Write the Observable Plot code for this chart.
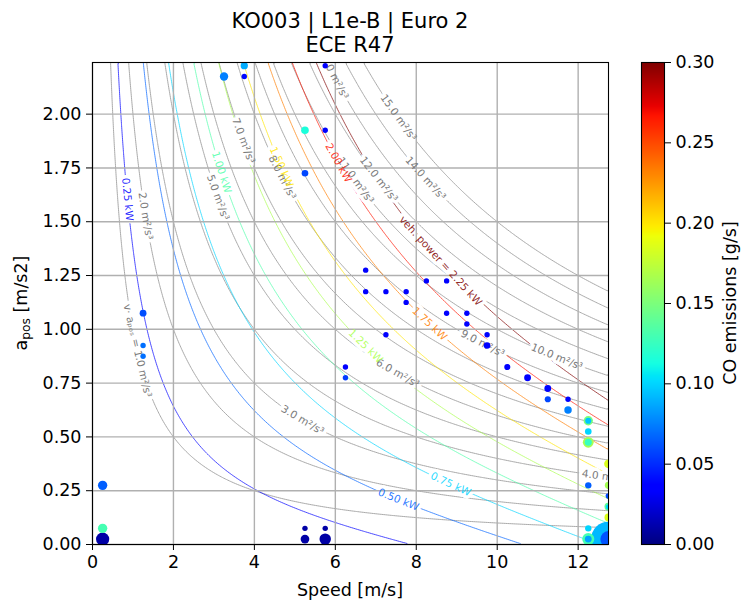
<!DOCTYPE html>
<html><head><meta charset="utf-8">
<script src="https://cdn.jsdelivr.net/npm/d3@7"></script>
<script src="https://cdn.jsdelivr.net/npm/@observablehq/plot@0.6"></script>
<style>
html,body{margin:0;padding:0;background:#fff;}
#fig{position:relative;width:743px;height:604px;font-family:"DejaVu Sans",sans-serif;color:#000;overflow:hidden;background:#fff}
.abs{position:absolute;white-space:nowrap;transform:translate(-50%,-50%);line-height:1}
.rot{transform:translate(-50%,-50%) rotate(-90deg)}
sub{font-size:70%;vertical-align:-0.25em}
</style></head><body><div id="fig"></div>
<script>
// ---------------- data ----------------
const speed = [0.25,0.25,0.25,1.25,1.25,1.25,3.25,3.75,3.75,5.25,5.25,5.75,5.75,5.25,5.25,5.75,5.75,
  6.25,6.25,6.75,6.75,7.25,7.25,7.75,7.75,8.25,8.75,8.75,9.25,9.25,9.75,9.75,10.25,10.75,11.25,11.25,11.75,11.75,
  12.25,12.25,12.25,12.25,12.25,12.25,12.25,12.25,12.25,12.75,12.75,12.75,12.75,12.75,12.75,12.75,12.75];
const accel = [0.025,0.075,0.275,1.075,0.925,0.875,2.175,2.225,2.175,1.925,1.725,2.225,1.925,0.075,0.025,0.075,0.025,
  0.825,0.775,1.275,1.175,1.175,0.975,1.175,1.125,1.225,1.225,1.075,1.075,1.025,0.975,0.925,0.825,0.775,0.725,0.675,0.675,0.625,
  0.575,0.575,0.525,0.475,0.475,0.275,0.075,0.025,0.025,0.375,0.275,0.225,0.175,0.175,0.125,0.025,0.025];
const coEmission = [0.010,0.130,0.065,0.060,0.070,0.070,0.075,0.088,0.040,0.115,0.058,0.035,0.035,0.010,0.010,0.010,0.010,
  0.035,0.055,0.035,0.035,0.035,0.035,0.035,0.035,0.035,0.035,0.035,0.035,0.035,0.035,0.035,0.035,0.035,0.038,0.058,0.038,0.075,
  0.150,0.095,0.100,0.165,0.125,0.065,0.100,0.130,0.085,0.185,0.165,0.060,0.140,0.100,0.185,0.092,0.062];
const dwellTime = [6,3,3,1.6,1,1,2.4,1.8,1,2,1.5,1,1,1,2.6,1,4.5,
  1,1,1,1,1,1,1,1,1,1,1,1,1,1,1.5,1.3,1.6,1.6,1.3,1,1.9,
  3,1.3,1.5,4,1.7,1.4,1.4,5,1.6,2.6,1.8,1.2,2.2,1,2.2,42,9];
const xTicks = [0,2,4,6,8,10,12];
const yTicks = [0,0.25,0.5,0.75,1.0,1.25,1.5,1.75,2.0];
const cbTicks = [0,0.05,0.10,0.15,0.20,0.25,0.30];
const vaLevels = [1,2,3,4,5,6,7,8,9,10,11,12,13,14,15];           // v·a_pos [m²/s³]
const powerLevels = [0.25,0.5,0.75,1.0,1.25,1.5,1.75,2.0,2.25];  // vehicle power [kW]
// vehicle road-load model used for the power contours
const vehMass = 171.7, rr0 = 0.0784, rr2 = 0.001725;
const powerKW = (v, a) => vehMass * v * (a + rr0 + rr2 * v * v) / 1000;

// ---------------- label placement (speed along each contour) ----------------
const vaLabelSpeed = [1.11,1.31,5.19,12.68,3.1,7.54,3.73,4.69,9.64,11.47,6.5,7.07,5.95,8.23,7.56];
const powerLabelSpeed = [0.865,7.56,8.85,3.19,6.75,4.67,8.33,6.08,8.6];

// ---------------- jet colormap ----------------
function jet(t) {
  const tt = Math.max(0, Math.min(1, t));
  const f = stops => {
    for (let i = 1; i < stops.length; i++) {
      if (tt <= stops[i][0]) {
        const [x0, y0] = stops[i-1], [x1, y1] = stops[i];
        return y0 + (y1 - y0) * (tt - x0) / (x1 - x0);
      }
    }
    return stops[stops.length-1][1];
  };
  const r = f([[0,0],[0.35,0],[0.66,1],[0.89,1],[1,0.5]]);
  const g = f([[0,0],[0.125,0],[0.375,1],[0.64,1],[0.91,0],[1,0]]);
  const b = f([[0,0.5],[0.11,1],[0.34,1],[0.65,0],[1,0]]);
  return `rgb(${Math.round(r*255)},${Math.round(g*255)},${Math.round(b*255)})`;
}

// ---------------- layout ----------------
const W = 625, H = 604, mL = 92, mR = W - 608, mT = 62, mB = 60;
const xDomain = [0, 12.75], yDomain = [0, 2.24];
const kx = (W - mL - mR) / (xDomain[1] - xDomain[0]);
const ky = (H - mT - mB) / (yDomain[1] - yDomain[0]);
const deg = s => Math.atan(-s * ky / kx) * 180 / Math.PI;

const points = speed.map((v, i) => ({v, a: accel[i], co: coEmission[i], t: dwellTime[i]}));

const labels = [];
vaLevels.forEach((L, i) => {
  const v = vaLabelSpeed[i], a = L / v, slope = -L / (v * v);
  labels.push({v, a, rot: deg(slope), color: "#7a7a7a", op: 1,
    text: (i === 0 ? "v· aₚₒₛ = " : "") + L.toFixed(1) + " m²/s³"});
});
const powerMarks = [];
powerLevels.forEach((P, i) => {
  const K = P * 1000 / vehMass;
  const col = jet(P / 2.25);
  powerMarks.push(Plot.contour({x1: xDomain[0], x2: xDomain[1], y1: yDomain[0], y2: yDomain[1],
    value: powerKW, thresholds: [P], stroke: col, strokeOpacity: 0.7, strokeWidth: 1, fill: "none"}));
  const v = powerLabelSpeed[i];
  const a = K / v - rr0 - rr2 * v * v;
  const slope = -K / (v * v) - 2 * rr2 * v;
  labels.push({v, a, rot: deg(slope), color: col, op: 0.85,
    text: (i === powerLevels.length - 1 ? "veh. power = " : "") + P.toFixed(2) + " kW"});
});
// inline-label gaps (white knock-out under each label) and the labels themselves
const haloMarks = labels.map(l => Plot.text([l], {x: "v", y: "a", text: "text", rotate: l.rot,
  fill: "white", stroke: "white", strokeWidth: 7, strokeLinejoin: "round", fontSize: 10.5, clip: true}));
const labelMarks = labels.map(l => Plot.text([l], {x: "v", y: "a", text: "text", rotate: l.rot,
  fill: l.color, fillOpacity: l.op, fontSize: 10.5, clip: true}));

const main = Plot.plot({
  width: W, height: H, marginLeft: mL, marginRight: mR, marginTop: mT, marginBottom: mB,
  style: {fontFamily: "DejaVu Sans", color: "black", background: "white", maxWidth: "none"},
  x: {domain: xDomain}, y: {domain: yDomain},
  color: {type: "linear", domain: [0, 0.3], interpolate: jet},
  r: {type: "sqrt", domain: [0, 1], range: [0, 2.7]},
  marks: [
    Plot.contour({x1: xDomain[0], x2: xDomain[1], y1: yDomain[0], y2: yDomain[1],
      value: (v, a) => v * a, thresholds: vaLevels, stroke: "#9a9a9a", strokeOpacity: 0.85, strokeWidth: 1, fill: "none"}),
    ...powerMarks,
    ...haloMarks,
    Plot.gridX(xTicks, {stroke: "#b0b0b0", strokeOpacity: 1, strokeWidth: 1.4}),
    Plot.gridY(yTicks, {stroke: "#b0b0b0", strokeOpacity: 1, strokeWidth: 1.4}),
    ...labelMarks,
    Plot.dot(points, {x: "v", y: "a", r: "t", fill: "co", clip: true}),
    Plot.frame({stroke: "black", strokeWidth: 1.1}),
    Plot.axisX({ticks: xTicks, tickFormat: d => String(d), tickSize: 6, tickPadding: 5, fontSize: 17.5, label: null}),
    Plot.axisY({ticks: yTicks, tickFormat: d3.format(".2f"), tickSize: 6, tickPadding: 5, fontSize: 17.5, label: null})
  ]
});

const cb = Plot.plot({
  width: 123, height: H, marginLeft: 21, marginRight: 79, marginTop: mT, marginBottom: mB,
  style: {fontFamily: "DejaVu Sans", color: "black", background: "transparent", maxWidth: "none"},
  x: {domain: [0, 1], axis: null}, y: {domain: [0, 0.3], axis: null},
  color: {type: "linear", domain: [0, 0.3], interpolate: jet},
  marks: [
    Plot.raster({x1: 0, x2: 1, y1: 0, y2: 0.3, fill: (x, y) => y}),
    Plot.frame({stroke: "black", strokeWidth: 1.1}),
    Plot.axisY({anchor: "right", ticks: cbTicks, tickFormat: d3.format(".2f"), tickSize: 6, tickPadding: 5, fontSize: 17.5, label: null})
  ]
});

const fig = document.getElementById("fig");
const wrapMain = document.createElement("div");
wrapMain.style.cssText = "position:absolute;left:0;top:0;";
wrapMain.appendChild(main);
fig.appendChild(wrapMain);
const wrapCb = document.createElement("div");
wrapCb.style.cssText = "position:absolute;left:620px;top:0;";
wrapCb.appendChild(cb);
fig.appendChild(wrapCb);

function addText(html, x, y, size, cls) {
  const d = document.createElement("div");
  d.className = "abs" + (cls ? " " + cls : "");
  d.style.left = x + "px"; d.style.top = y + "px"; d.style.fontSize = size + "px";
  d.innerHTML = html;
  fig.appendChild(d);
}
addText("KO003 | L1e-B | Euro 2", 350, 21, 21);
addText("ECE R47", 350, 45, 21);
addText("Speed [m/s]", 350, 591, 17.5);
addText("a<sub>pos</sub> [m/s2]", 23, 303, 17.5, "rot");
addText("CO emissions [g/s]", 731, 303, 17.5, "rot");
</script></body></html>
